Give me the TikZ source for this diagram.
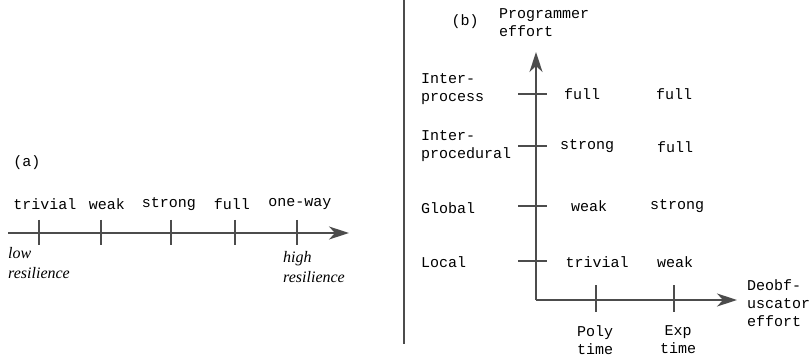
\documentclass[tikz,border=0pt]{standalone}
\usepackage{fontspec}
\setmainfont{Liberation Serif}
\setmonofont{Liberation Mono}
\usetikzlibrary{positioning, arrows.meta}

\begin{document}
\begin{tikzpicture}[x=1pt, y=-1pt,
    axis/.style={draw=black!70, line width=1.6pt, -{Stealth[length=20pt, width=13pt, inset=6pt]}},
    tick/.style={draw=black!70, line width=1.1pt},
    lbl/.style={font=\ttfamily\fontsize{15}{18}\selectfont, inner sep=0pt, align=center},
    itl/.style={font=\itshape\fontsize{16}{20}\selectfont, inner sep=0pt, align=left}]
    \useasboundingbox (0,0) rectangle (811,358);

    % (a) resilience scale
    \node[lbl] (tagA) at (27,163) {(a)};
    \coordinate (aStart) at (8,233);
    \coordinate (aEnd) at (349,233);
    \draw[axis] (aStart) -- (aEnd);
    \foreach \x/\name in {39/triv, 101/weak, 171/strong, 235/full, 297/oneway}
        \coordinate (a\name) at (\x,233);
    \foreach \name in {triv, weak, strong, full, oneway}
        \draw[tick] ([yshift=13pt]a\name) -- ([yshift=-12pt]a\name);
    \node[lbl] (lTriv) at (45,204) {trivial};
    \node[lbl] (lWeak) at (107,204) {weak};
    \node[lbl] (lStrong) at (169,204) {strong};
    \node[lbl] (lFull) at (232,204) {full};
    \node[lbl] (lOneway) at (300,204) {one-way};
    \node[itl, anchor=north west] (low) at (8,247) {low\\resilience};
    \node[itl, anchor=north west] (high) at (283,251) {high\\resilience};

    % divider
    \draw[draw=black!70, line width=1.2pt] (404,0) -- (404,344);

    % (b) effort grid
    \node[lbl] (tagB) at (465,22) {(b)};
    \node[lbl, anchor=west, align=left] (progEffort) at (499,23) {Programmer\\effort};
    \coordinate (origin) at (536,300);
    \coordinate (yEnd) at (536,52);
    \coordinate (xEnd) at (737,300);
    \draw[axis] (origin) -- (yEnd);
    \draw[axis] (origin) -- (xEnd);

    \foreach \y/\name in {94/proc, 146/inter, 206/glob, 261/loc}
        \coordinate (y\name) at (536,\y);
    \foreach \name in {proc, inter, glob, loc}
        \draw[tick] ([xshift=-18pt]y\name) -- ([xshift=11pt]y\name);
    \node[lbl, anchor=west, align=left] (rProc) at (421,89) {Inter-\\process};
    \node[lbl, anchor=west, align=left] (rInter) at (421,146) {Inter-\\procedural};
    \node[lbl, anchor=west] (rGlob) at (421,208) {Global};
    \node[lbl, anchor=west] (rLoc) at (421,262) {Local};

    \coordinate (xPoly) at (596,300);
    \coordinate (xExp) at (674,300);
    \draw[tick] ([yshift=15pt]xPoly) -- ([yshift=-12pt]xPoly);
    \draw[tick] ([yshift=15pt]xExp) -- ([yshift=-12pt]xExp);
    \node[lbl] (cPoly) at (595,340) {Poly\\time};
    \node[lbl] (cExp) at (678,340) {Exp\\time};
    \node[lbl, anchor=west, align=left] (deobf) at (747,303) {Deobf-\\uscator\\effort};

    \node[lbl] (pFull) at (582,94) {full};
    \node[lbl] (eFull) at (674,94) {full};
    \node[lbl] (pStrong) at (587,146) {strong};
    \node[lbl] (eFull2) at (675,147) {full};
    \node[lbl] (pWeak) at (589,206) {weak};
    \node[lbl] (eStrong) at (677,206) {strong};
    \node[lbl] (pTriv) at (597,262) {trivial};
    \node[lbl] (eWeak) at (675,262) {weak};
\end{tikzpicture}
\end{document}
